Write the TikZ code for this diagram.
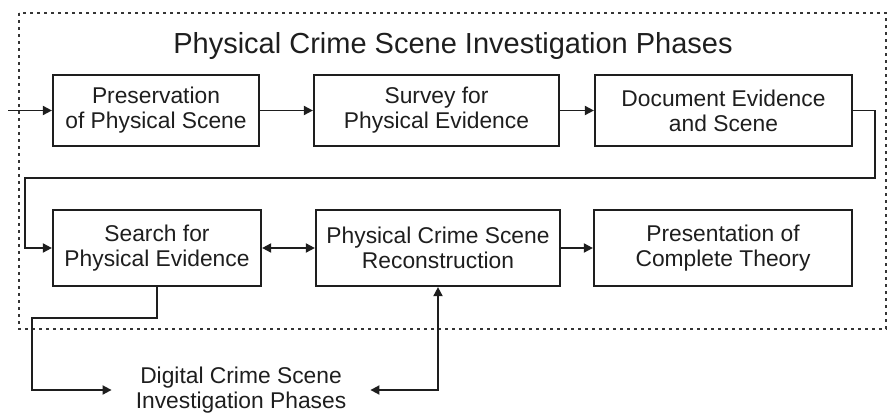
\documentclass[tikz,border=0pt]{standalone}
\usepackage{fontspec}
\setmainfont{Liberation Sans}
\usetikzlibrary{arrows.meta}
\definecolor{ink}{HTML}{1E1E1E}
\begin{document}
\begin{tikzpicture}[x=1pt,y=-1pt,
  phase/.style={draw=ink, line width=2.2pt, text=ink, align=center,
    minimum height=71pt, inner sep=0pt,
    font=\fontsize{22.8}{25}\selectfont},
  label/.style={text=ink, align=center, font=\fontsize{22.8}{25}\selectfont},
  flow/.style={draw=ink, line width=1.8pt, -{Triangle[length=9pt,width=9pt]}},
  twoway/.style={draw=ink, line width=1.8pt, {Triangle[length=9pt,width=9pt]}-{Triangle[length=9pt,width=9pt]}},
  frame/.style={draw=ink!90, line width=1.8pt, dash pattern=on 3pt off 4pt}
]
\useasboundingbox (0,0) rectangle (889,415);

% dotted frame around the physical phases
\draw[frame] (19,13) rectangle (886,329);

\node[text=ink, font=\fontsize{29}{32}\selectfont] (title) at (453,46)
  {Physical Crime Scene Investigation Phases};

% first row
\node[phase, minimum width=206pt] (pres) at (156,110.5)
  {Preservation\\of Physical Scene};
\node[phase, minimum width=245pt] (surv) at (436.5,110.5)
  {Survey for\\Physical Evidence};
\node[phase, minimum width=257pt] (doc) at (723.5,110.5)
  {Document Evidence\\and Scene};

% second row
\node[phase, minimum width=208pt, minimum height=76pt] (search) at (157,248)
  {Search for\\Physical Evidence};
\node[phase, minimum width=244pt, minimum height=76pt] (recon) at (438,248)
  {Physical Crime Scene\\Reconstruction};
\node[phase, minimum width=258pt, minimum height=76pt] (theory) at (723,248)
  {Presentation of\\Complete Theory};

% digital phases outside the frame
\node[label, inner xsep=24pt, inner ysep=0pt] (digital) at (241,390)
  {Digital Crime Scene\\Investigation Phases};

% routing points
\coordinate (entry) at (8,110.5);
\coordinate (rturn) at (875,178);
\coordinate (lturn) at (25,178);
\coordinate (dturn) at (32,318);

% connectors
\draw[flow] (entry) -- (pres.west);
\draw[flow] (pres.east) -- (surv.west);
\draw[flow] (surv.east) -- (doc.west);
\draw[flow] (doc.east) -| (rturn) -- (lturn) |- (search.west);
\draw[twoway] (search.east) -- (recon.west);
\draw[flow] (recon.east) -- (theory.west);
\draw[flow] (search.south) |- (dturn) |- (digital.west);
\draw[twoway] (digital.east) -| (recon.south);
\end{tikzpicture}
\end{document}
